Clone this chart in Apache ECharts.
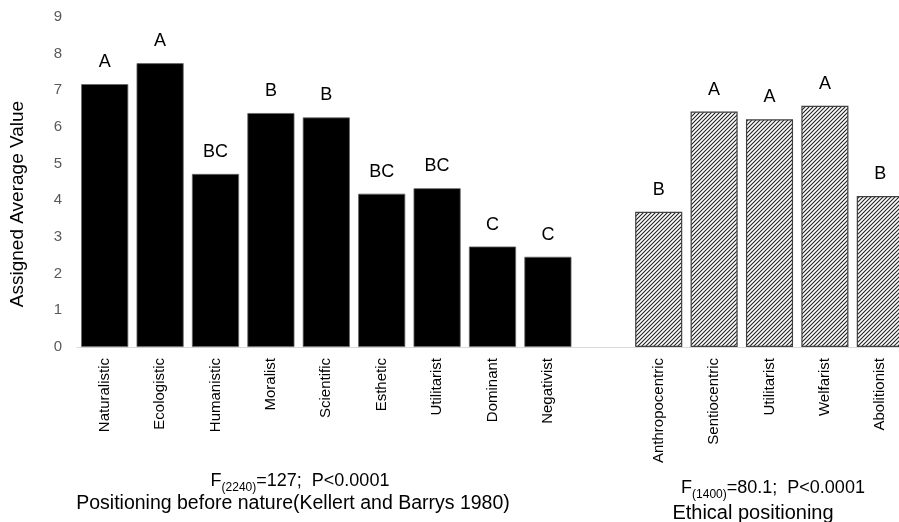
<!DOCTYPE html>
<html>
<head>
<meta charset="utf-8">
<script src="https://cdn.jsdelivr.net/npm/echarts@6/dist/echarts.min.js"></script>
<style>
html,body{margin:0;padding:0;background:#fff;overflow:hidden;}
#chart{width:910px;height:522px;}
</style>
</head>
<body>
<div id="chart"></div>
<script>
// Data
var natureCategories = ['Naturalistic','Ecologistic','Humanistic','Moralist','Scientific','Esthetic','Utilitarist','Dominant','Negativist'];
var natureValues = [7.17, 7.74, 4.72, 6.38, 6.26, 4.18, 4.33, 2.74, 2.46];
var natureLetters = ['A','A','BC','B','B','BC','BC','C','C'];
var ethicCategories = ['Anthropocentric','Sentiocentric','Utilitarist','Welfarist','Abolitionist'];
var ethicValues = [3.69, 6.42, 6.21, 6.58, 4.12];
var ethicLetters = ['B','A','A','A','B'];
var yTicks = [0,1,2,3,4,5,6,7,8,9];

var FONT = 'Liberation Sans, Arial, sans-serif';

// categories with an empty spacer slot between groups
var categories = natureCategories.concat([' ']).concat(ethicCategories);
var nGap = natureCategories.length + 1;
var natureData = natureValues.concat(new Array(1 + ethicValues.length).fill('-'));
var ethicData = new Array(nGap).fill('-').concat(ethicValues);
var letters = natureLetters.concat(['']).concat(ethicLetters);

// hatch pattern
var pc = document.createElement('canvas');
pc.width = 4; pc.height = 4;
var ctx = pc.getContext('2d');
ctx.fillStyle = '#ffffff';
ctx.fillRect(0,0,4,4);
ctx.strokeStyle = '#222222';
ctx.lineWidth = 1.1;
ctx.beginPath();
ctx.moveTo(-1,5); ctx.lineTo(5,-1);
ctx.moveTo(-1,1); ctx.lineTo(1,-1);
ctx.moveTo(3,5); ctx.lineTo(5,3);
ctx.stroke();

var chart = echarts.init(document.getElementById('chart'), null, {renderer:'canvas'});
var labelCfg = {
  show: true, position: 'top', distance: 13,
  fontFamily: FONT, fontSize: 18, color: '#000',
  formatter: function(p){ return letters[p.dataIndex]; }
};
var subRich = {
  n:{fontFamily:FONT, fontSize:18, color:'#000', verticalAlign:'bottom'},
  s:{fontFamily:FONT, fontSize:12, color:'#000', verticalAlign:'bottom', padding:[0,0,-4,0]}
};
chart.setOption({
  animation: false,
  backgroundColor: '#fff',
  grid: {left: 77, right: 2, top: 17, bottom: 175, containLabel: false},
  xAxis: {
    type: 'category', data: categories,
    axisLine: {show: true, lineStyle: {color: '#d9d9d9', width: 1}},
    axisTick: {show: false},
    axisLabel: {rotate: 90, interval: 0, margin: 11, fontFamily: FONT, fontSize: 15, color: '#000'}
  },
  yAxis: {
    type: 'value', min: yTicks[0], max: yTicks[yTicks.length-1], interval: 1,
    axisLine: {show: false}, axisTick: {show: false},
    splitLine: {show: false},
    axisLabel: {fontFamily: FONT, fontSize: 15, color: '#595959', margin: 15}
  },
  series: [
    {
      type: 'bar', data: natureData, barCategoryGap: '15%', barGap: '-100%',
      itemStyle: {color: '#000', borderColor: '#666', borderWidth: 0.8},
      label: labelCfg
    },
    {
      type: 'bar', data: ethicData, barCategoryGap: '15%', barGap: '-100%',
      itemStyle: {color: {image: pc, repeat: 'repeat'}, borderColor: '#404040', borderWidth: 1.2},
      label: labelCfg
    }
  ],
  graphic: [
    {type:'text', x: 18, y: 204, rotation: Math.PI/2, style:{
      text: 'Assigned Average Value', align:'center', verticalAlign:'middle',
      fontFamily: FONT, fontSize: 19, fill:'#000'
    }},
    {type:'text', x: 300, y: 481, style:{
      text: '{n|F}{s|(2240)}{n|=127;  P<0.0001}', align:'center', verticalAlign:'middle',
      rich: subRich
    }},
    {type:'text', x: 293, y: 504, style:{
      text: 'Positioning before nature(Kellert and Barrys 1980)', align:'center', verticalAlign:'middle',
      fontFamily: FONT, fontSize: 19.5, fill:'#000'
    }},
    {type:'text', x: 773, y: 488, style:{
      text: '{n|F}{s|(1400)}{n|=80.1;  P<0.0001}', align:'center', verticalAlign:'middle',
      rich: subRich
    }},
    {type:'text', x: 753, y: 513, style:{
      text: 'Ethical positioning', align:'center', verticalAlign:'middle',
      fontFamily: FONT, fontSize: 20, fill:'#000'
    }}
  ]
});
</script>
</body>
</html>
